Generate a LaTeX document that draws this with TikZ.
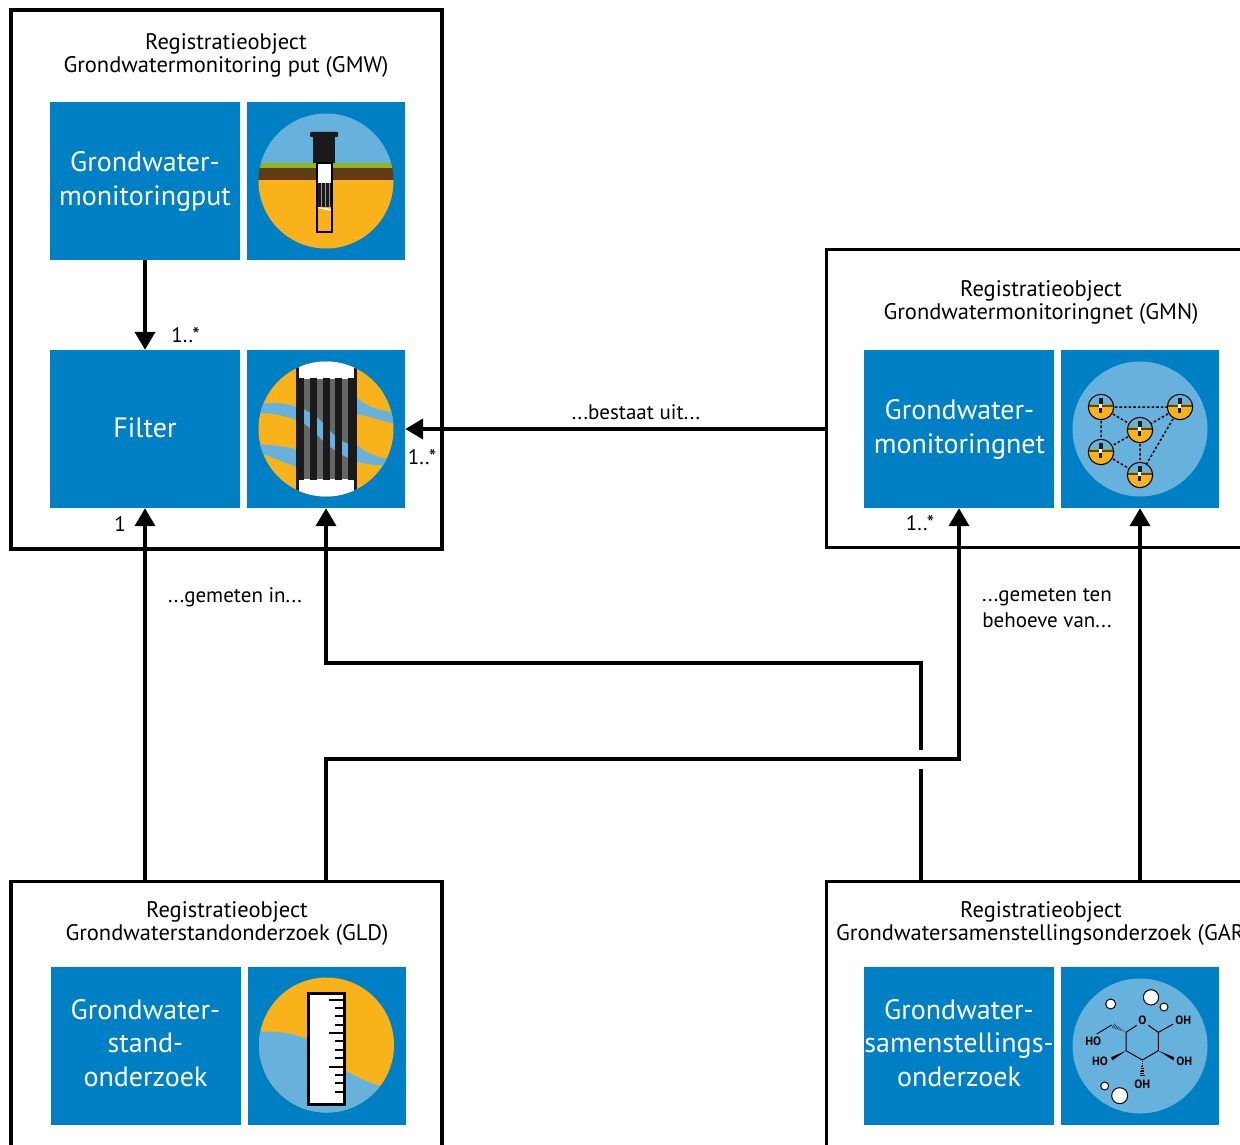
\documentclass[tikz,border=0pt]{standalone}
\usepackage{fontspec}
\setmainfont{PT Sans}
\usetikzlibrary{arrows.meta,calc}
\definecolor{tileblue}{HTML}{0080C4}
\definecolor{skyblue}{HTML}{66B2DD}
\definecolor{soil}{HTML}{F9B21A}
\definecolor{clay}{HTML}{623B14}
\definecolor{grass}{HTML}{8DB61F}
\definecolor{ink}{HTML}{1A1A1A}
\tikzset{
  x=1pt,y=-1pt,
  frame/.style={draw=black,fill=white,line width=3.2pt,inner sep=0pt,outer sep=0pt,anchor=north west},
  tile/.style={fill=tileblue,inner sep=0pt,minimum height=158pt},
  textTile/.style={tile,minimum width=190pt},
  iconTile/.style={tile,minimum width=158pt},
  tiletext/.style={text=white,inner sep=0pt,align=center,font=\fontsize{28}{33.3}\selectfont},
  title/.style={align=center,inner sep=0pt,font=\fontsize{22.5}{23}\selectfont},
  lbl/.style={inner sep=0pt,font=\fontsize{21}{26}\selectfont,align=center},
  link/.style={draw=black,line width=4pt,line join=miter},
  arrowed/.style={link,-{Triangle[length=18pt,width=20pt]}},
  chem/.style={inner sep=0pt,font=\fontsize{12}{12}\selectfont\bfseries,text=black},
  bubble/.style={draw=black,fill=white,line width=1pt},
  netline/.style={draw=black,line width=1.5pt,dash pattern=on 2.6pt off 2pt}
}
\newcommand{\wellicon}{%
  \begin{scope}
    \clip (0,0) circle[radius=67.5];
    \fill[skyblue] (-70,-70) rectangle (70,-18);
    \fill[grass] (-70,-18) rectangle (70,-13);
    \fill[clay] (-70,-13) rectangle (70,-1);
    \fill[soil] (-70,-1) rectangle (70,70);
  \end{scope}
}
\begin{document}
\begin{tikzpicture}
\useasboundingbox (0,0) rectangle (1240,1145);
\begin{scope}
\clip (0,0) rectangle (1240,1145);
% frames
\node[frame,line width=4pt,minimum width=431pt,minimum height=538pt] (gmwframe) at (10.5,10.5) {};
\node[frame,minimum width=460pt,minimum height=298pt] (gmnframe) at (826.5,249.5) {};
\node[frame,minimum width=431pt,minimum height=320pt] (gldframe) at (11,881.5) {};
\node[frame,minimum width=460pt,minimum height=320pt] (garframe) at (826.5,881.5) {};
% titles
\node[title] (gmwtitle) at (226,56) {Registratieobject\\Grondwatermonitoring put (GMW)};
\node[title] (gmntitle) at (1041,303) {Registratieobject\\Grondwatermonitoringnet (GMN)};
\node[title] (gldtitle) at (227,923.5) {Registratieobject\\Grondwaterstandonderzoek (GLD)};
\node[title] (gartitlea) at (1041,912) {Registratieobject};
\node[title,anchor=west] (gartitleb) at (836,935) {Grondwatersamenstellingsonderzoek (GAR};
% tiles
\node[textTile] (put) at (145,181) {};
\node[iconTile] (puticon) at (326,181) {};
\node[textTile] (filter) at (145,429) {};
\node[iconTile] (filtericon) at (326,429) {};
\node[textTile] (net) at (959,429) {};
\node[iconTile] (neticon) at (1140,429) {};
\node[textTile] (gld) at (145.5,1046) {};
\node[iconTile] (gldicon) at (326.5,1046) {};
\node[textTile] (gar) at (959,1046) {};
\node[iconTile] (garicon) at (1140,1046) {};
\node[tiletext] (puttext) at (145,181.5) {Grondwater-\\monitoringput};
\node[tiletext] (filtertext) at (145,428) {Filter};
\node[tiletext] (nettext) at (959.5,429.5) {Grondwater-\\monitoringnet};
\node[tiletext] (gldtext) at (145.5,1043) {Grondwater-\\stand-\\onderzoek};
\node[tiletext] (gartext) at (959,1043) {Grondwater-\\samenstellings-\\onderzoek};
% well icon
\begin{scope}[shift={(326,181)}]
  \wellicon
  \fill[ink] (-13,-47) rectangle (9,-18);
  \fill[ink,rounded corners=1pt] (-16,-49) rectangle (12,-44);
  \fill[white] (-9,-18) rectangle (6,2);
  \fill[soil] (-9,2) rectangle (6,50);
  \fill[ink] (-9,2) rectangle (6,26);
  \foreach \sx in {-5,-1,3}{\draw[white!60!black,line width=.6pt] (\sx,2) -- (\sx,26);}
  \fill[white] (-9,26) -- (6,28) -- (6,30) -- (-9,27) -- cycle;
  \draw[black,line width=1.2pt] (-9,-18) rectangle (6,51);
\end{scope}
% filter icon
\begin{scope}[shift={(326,429)}]
  \begin{scope}
    \clip (0,0) circle[radius=67.5];
    \fill[soil] (-70,-70) rectangle (70,70);
    \fill[white] (-30,-70) rectangle (30,70);
    % side bands of water
    \fill[skyblue] (-70,-25) .. controls (-55,-26) and (-42,-27) .. (-30,-22) -- (-30,-9)
      .. controls (-42,-14) and (-55,-16) .. (-70,-16) -- cycle;
    \fill[skyblue] (-70,15) .. controls (-50,16) and (-40,18) .. (-30,20) -- (-30,38)
      .. controls (-45,32) and (-55,28) .. (-70,22) -- cycle;
    \fill[skyblue] (30,-32) .. controls (40,-22) and (55,-18) .. (70,-16) -- (70,-5)
      .. controls (55,-8) and (40,-14) .. (30,-15) -- cycle;
    \fill[skyblue] (30,15) .. controls (40,25) and (55,30) .. (70,31) -- (70,36)
      .. controls (55,37) and (40,36) .. (30,32) -- cycle;
    % screen
    \fill[black!60] (-30,-50) rectangle (30,50);
    \fill[skyblue] (-30,-22) .. controls (-20,-20) and (-10,-14) .. (0,-3)
      .. controls (8,7) and (18,16) .. (30,16) -- (30,32)
      .. controls (15,27) and (3,18) .. (-8,7)
      .. controls (-16,-1) and (-22,-7) .. (-30,-9) -- cycle;
    \foreach \sx in {-29.3,-16,-3.3,9,22.3}{\fill[ink] (\sx,-51) rectangle ++(6.8,102);}
    \fill[ink] (-30.5,-70) rectangle (-27,70);
    \fill[ink] (27.5,-70) rectangle (31,70);
  \end{scope}
\end{scope}
% network icon
\fill[skyblue] (neticon.center) circle[radius=67.5];
\coordinate (wa) at (1101,407);
\coordinate (wb) at (1180,407);
\coordinate (wc) at (1140,430);
\coordinate (wd) at (1101,452);
\coordinate (we) at (1140,475);
\draw[netline] (wa) -- (wb) (wa) -- (wc) (wa) -- (wd) (wb) -- (wc) (wb) -- (we) (wc) -- (wd) (wc) -- (we) (wd) -- (we);
\foreach \wp in {wa,wb,wc,wd,we}{
  \begin{scope}[shift={(\wp)},scale=.188]
    \wellicon
    \fill[ink] (-13,-47) rectangle (9,-18);
    \fill[white] (-9,-18) rectangle (6,5);
    \fill[ink] (-9,5) rectangle (6,30);
    \draw[black,line width=1.1pt] (0,0) circle[radius=67.5];
  \end{scope}
}
% gauge icon
\begin{scope}[shift={(326.5,1045)}]
  \begin{scope}
    \clip (0,0) circle[radius=67.5];
    \fill[soil] (-70,-70) rectangle (70,70);
    \fill[skyblue] (-70,-13) .. controls (-45,-15) and (-25,-10) .. (-15,-3)
      .. controls (0,10) and (15,30) .. (60,43) -- (70,70) -- (-70,70) -- cycle;
  \end{scope}
  \fill[white,draw=black,line width=3pt] (-18,-52) rectangle (18,59);
  \foreach \ty/\tl in {-45/16,-12/16,22/16,-37/10,-29/10,-20/10,-4/10,5/10,13/10,30/10,38/10,47/10}{
    \draw[black,line width=2.8pt] (18,\ty) -- ++(-\tl,0);
  }
\end{scope}
% sugar icon
\fill[skyblue] (garicon.center) circle[radius=67.5];
\begin{scope}[shift={(1055,960)},scale=1/3]
  \node[bubble,circle,minimum size=15.3pt,inner sep=0pt] (bub1) at (288,112) {};
  \node[bubble,circle,minimum size=8pt,inner sep=0pt] (bub2) at (327,141) {};
  \node[bubble,circle,minimum size=10pt,inner sep=0pt] (bub3) at (167,132) {};
  \node[bubble,circle,minimum size=16pt,inner sep=0pt] (bub4) at (194,407) {};
  \node[bubble,circle,minimum size=8pt,inner sep=0pt] (bub5) at (149,378) {};
  \node[chem] (oxy) at (262,181) {O};
  \node[chem] (oh1) at (385,182) {OH};
  \node[chem] (ho1) at (115,245) {HO};
  \node[chem] (ho2) at (135,305) {HO};
  \node[chem] (oh2) at (388,305) {OH};
  \node[chem] (oh3) at (262,372) {OH};
  \draw[black,line width=1pt,line join=round]
    (245,196) -- (213,217) -- (213,272) -- (262,300) -- (310,272) -- (310,217) -- (280,196);
  \draw[black,line width=1pt] (310,217) -- (355,192);
  \draw[black,line width=1pt] (170,195) -- (125,222);
  \fill[black] (213,272) -- (168,292) -- (172,301) -- cycle;
  \fill[black] (310,272) -- (358,292) -- (355,301) -- cycle;
  \foreach \hh in {0,.1,...,1}{
    \draw[black,line width=.4pt] ($(262,300)+(-\hh*8,\hh*50)$) -- ($(262,300)+(\hh*8,\hh*50)$);
    \draw[black,line width=.4pt] ($(213,217)+(-\hh*42-\hh*4,-\hh*22+\hh*7)$) -- ($(213,217)+(-\hh*42+\hh*4,-\hh*22-\hh*7)$);
  }
\end{scope}
% connector ports
\coordinate (gmnport) at (826,429);
\coordinate (gldportA) at (145,881);
\coordinate (gldportB) at (326,881);
\coordinate (gldbendA) at (326,759);
\coordinate (gldbendB) at (959,759);
\coordinate (garportA) at (921,881);
\coordinate (gapbelow) at (921,769);
\coordinate (gapabove) at (921,750);
\coordinate (garbendA) at (921,663);
\coordinate (garbendB) at (326,663);
\coordinate (garportB) at (1140,881);
% connectors
\draw[arrowed] (put.south) -- (filter.north);
\draw[arrowed] (gmnport) -- (filtericon.east);
\draw[arrowed] (gldportA) -- (filter.south);
\draw[arrowed] (gldportB) -- (gldbendA) -- (gldbendB) -- (net.south);
\draw[link] (garportA) -- (gapbelow);
\draw[arrowed] (gapabove) -- (garbendA) -- (garbendB) -- (filtericon.south);
\draw[arrowed] (garportB) -- (neticon.south);
% labels
\node[lbl] (m1) at (185.5,335) {1..*};
\node[lbl] (m2) at (422,457) {1..*};
\node[lbl] (m3) at (920,523) {1..*};
\node[lbl] (m4) at (120,524) {1};
\node[lbl] (l1) at (636,412) {...bestaat uit...};
\node[lbl] (l2) at (235,597) {...gemeten in...};
\node[lbl] (l3) at (1047,608) {...gemeten ten\\behoeve van...};
\end{scope}
\end{tikzpicture}
\end{document}
